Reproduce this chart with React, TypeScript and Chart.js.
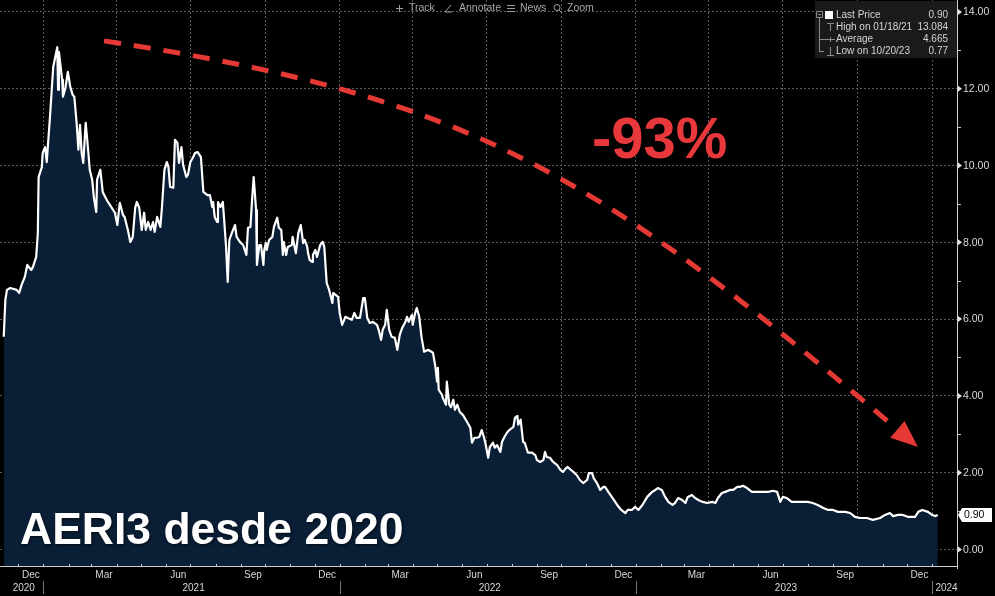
import React, { useEffect, useRef } from "react";
import { Chart, registerables } from "chart.js";

Chart.register(...registerables);

// ---- Data (x = days since 2021-01-01, y = price in BRL) ----
const days = [
  -49, -47, -45, -41, -33, -30, -27, -23, -20, -15, -13, -9, -7, -6, -2, -1, 2, 4, 8, 12, 17, 18, 19, 23, 24, 27, 30, 33, 36, 38,
  41, 43, 45, 47, 49, 52, 55, 57, 60, 62, 65, 66, 70, 73, 78, 82, 88, 91, 94, 98, 100, 104, 107, 110, 113, 115, 118, 121, 124, 126,
  129, 132, 135, 137, 140, 144, 146, 149, 152, 154, 156, 160, 162, 165, 167, 170, 172, 176, 178, 181, 184, 187, 190, 194, 197, 202,
  205, 208, 209, 211, 214, 215, 218, 221, 222, 225, 227, 229, 232, 236, 238, 242, 246, 250, 252, 255, 257, 259, 262, 263, 266, 268,
  271, 272, 274, 275, 278, 282, 284, 288, 290, 293, 295, 296, 299, 301, 306, 307, 311, 314, 317, 320, 322, 325, 326, 328, 331, 332,
  335, 337, 341, 344, 346, 349, 352, 356, 357, 360, 363, 365, 368, 372, 375, 380, 383, 386, 390, 394, 396, 399, 402, 406, 411, 413,
  416, 418, 421, 423, 426, 429, 433, 436, 439, 442, 446, 448, 450, 454, 455, 458, 460, 463, 466, 469, 474, 478, 480, 483, 485, 486,
  487, 491, 492, 496, 497, 500, 502, 505, 507, 510, 513, 517, 522, 526, 528, 531, 534, 537, 540, 543, 545, 548, 550, 554, 556, 559,
  563, 565, 568, 571, 574, 579, 581, 584, 585, 588, 591, 593, 597, 602, 606, 608, 612, 616, 618, 620, 624, 628, 633, 637, 640, 644,
  646, 650, 653, 657, 661, 665, 670, 672, 676, 678, 682, 686, 690, 692, 696, 702, 707, 712, 717, 720, 725, 729, 733, 738, 744, 750,
  754, 757, 762, 766, 770, 775, 778, 782, 787, 791, 794, 799, 803, 807, 812, 818, 824, 828, 831, 836, 840, 846, 850, 855, 858, 862,
  867, 873, 879, 887, 893, 899, 904, 908, 911, 916, 922, 929, 936, 942, 948, 954, 961, 967, 973, 979, 988, 994, 1000, 1006, 1015, 1022,
  1031, 1037, 1043, 1047, 1053, 1059, 1065, 1074, 1078, 1083, 1087, 1090, 1095, 1099, 1102,
];

const prices = [
  5.54, 6.5, 6.76, 6.81, 6.76, 6.68, 6.89, 7.1, 7.41, 7.28, 7.36, 7.62, 8.24, 9.7, 9.96, 10.33, 10.48, 10.09, 11.27, 12.57, 13.08, 11.97, 12.96, 12.23, 11.79, 12.02, 12.44, 12.05, 11.84, 11.79,
  11.06, 10.41, 11.06, 10.33, 10.07, 11.11, 10.41, 9.89, 9.63, 9.18, 8.79, 9.63, 9.89, 9.31, 9.1, 8.97, 8.77, 8.45, 9.03, 8.71, 8.66, 8.32, 8.01, 8.14, 8.9, 9.05, 8.9, 8.32, 8.77, 8.32,
  8.53, 8.32, 8.53, 8.27, 8.66, 8.4, 8.92, 9.89, 10.09, 9.96, 9.44, 9.42, 10.67, 10.59, 10.07, 10.48, 10.02, 9.7, 9.76, 10.09, 10.2, 10.33, 10.35, 10.22, 9.31, 9.23,
  9.23, 8.92, 9.05, 8.66, 8.53, 9.05, 8.92, 9.05, 8.77, 7.88, 6.97, 8.06, 8.24, 8.45, 8.14, 8.01, 7.93, 7.67, 8.38, 8.4, 9.1, 9.7, 8.84, 7.41, 7.93, 7.93,
  7.41, 7.8, 7.98, 7.8, 8.06, 8.14, 8.4, 8.64, 8.38, 8.32, 7.67, 8.01, 7.67, 7.88, 7.93, 8.14, 7.72, 8.24, 8.45, 7.98, 8.06, 7.88, 7.72, 7.54, 7.49, 7.67,
  7.8, 7.62, 7.93, 8.01, 7.88, 6.94, 6.76, 6.42, 6.68, 6.63, 6.58, 6.16, 5.85, 6.06, 6.03, 5.98, 6.16, 6.03, 6.03, 6.55, 6.55, 6.03, 5.9, 5.93, 5.85, 5.72,
  5.46, 5.72, 5.85, 6.24, 5.72, 5.54, 5.51, 5.2, 5.59, 5.77, 5.93, 6.06, 5.93, 6.11, 5.85, 6.16, 6.29, 6.06, 5.51, 5.15, 5.2, 5.15, 5.12, 4.75, 4.37, 4.73,
  4.16, 4.03, 3.95, 3.77, 4.37, 3.77, 3.71, 3.9, 3.64, 3.77, 3.58, 3.5, 3.32, 3.17, 2.78, 2.91, 2.91, 2.93, 3.11, 2.91, 2.72, 2.39, 2.67, 2.78, 2.65, 2.72,
  2.54, 2.8, 2.93, 3.04, 3.11, 3.19, 3.43, 3.48, 3.25, 3.38, 2.8, 2.78, 2.52, 2.52, 2.46, 2.33, 2.28, 2.33, 2.54, 2.41, 2.39, 2.28, 2.2, 2.07, 2.02, 2.12,
  2.15, 2.07, 2.02, 1.94, 1.81, 1.73, 1.81, 1.99, 1.99, 1.86, 1.73, 1.55, 1.63, 1.63, 1.5, 1.32, 1.16, 1.03, 0.95, 1.03, 1.03, 1.11, 1.03, 1.16, 1.37, 1.5,
  1.55, 1.6, 1.55, 1.37, 1.24, 1.16, 1.21, 1.34, 1.29, 1.21, 1.37, 1.42, 1.34, 1.29, 1.24, 1.21, 1.24, 1.21, 1.34, 1.47, 1.5, 1.55, 1.55, 1.63, 1.63, 1.66,
  1.6, 1.5, 1.5, 1.5, 1.5, 1.53, 1.5, 1.24, 1.37, 1.34, 1.24, 1.24, 1.24, 1.24, 1.21, 1.16, 1.08, 1.03, 1.03, 0.98, 0.98, 0.95, 0.85, 0.82, 0.82, 0.77,
  0.82, 0.9, 0.95, 0.87, 0.9, 0.9, 0.85, 0.85, 0.98, 1.03, 1.0, 0.98, 0.9, 0.87, 0.9,
];

// axis ranges & ticks
const xMinDay = -53.6;
const xMaxDay = 1125.7;
const yMin = -0.43;
const yMax = 14.31;
const yTickValues = [0, 2, 4, 6, 8, 10, 12, 14];
const yMinorValues = [1, 3, 5, 7, 9, 11, 13];
const monthLabels = ["Dec", "Mar", "Jun", "Sep", "Dec", "Mar", "Jun", "Sep", "Dec", "Mar", "Jun", "Sep", "Dec"];
const monthLabelMonths = ["2020-12", "2021-03", "2021-06", "2021-09", "2021-12", "2022-03", "2022-06", "2022-09", "2022-12", "2023-03", "2023-06", "2023-09", "2023-12"];
const yearLabels = ["2020", "2021", "2022", "2023", "2024"];

// legend / annotations
const legendNames = ["Last Price", "High on 01/18/21", "Average", "Low on 10/20/23"];
const legendValues = ["0.90", "13.084", "4.665", "0.77"];
const lastPrice = 0.9;
const toolbarItems = ["Track", "Annotate", "News", "Zoom"];
const titleText = "AERI3 desde 2020";
const dropText = "-93%";
const arrowDays = [74.6, 541.2, 689.8, 1077.6];
const arrowValues = [13.245, 11.766, 9.638, 2.672];

const FONT = "'Liberation Sans', Arial, sans-serif";
const RED = "#e53935";

function dayOf(y: number, m: number, d: number) {
  return (Date.UTC(y, m - 1, d) - Date.UTC(2021, 0, 1)) / 86400000;
}

const quarterStarts: number[] = [];
const monthStarts: number[] = [];
for (let y = 2020; y <= 2024; y++) {
  for (let m = 1; m <= 12; m++) {
    const d = dayOf(y, m, 1);
    if (d < xMinDay || d > xMaxDay) continue;
    monthStarts.push(d);
    if ((m - 1) % 3 === 0) quarterStarts.push(d);
  }
}

const overlay = {
  id: "overlay",
  afterDraw(chart: any) {
    const ctx: CanvasRenderingContext2D = chart.ctx;
    const xs = chart.scales.x;
    const ys = chart.scales.y;
    const ca = chart.chartArea;
    ctx.save();

    // axis lines
    ctx.strokeStyle = "#d0d0d0";
    ctx.lineWidth = 1;
    ctx.beginPath();
    ctx.moveTo(ca.right + 0.5, 0);
    ctx.lineTo(ca.right + 0.5, ca.bottom + 3);
    ctx.moveTo(ca.left, ca.bottom + 0.5);
    ctx.lineTo(ca.right + 0.5, ca.bottom + 0.5);
    ctx.stroke();

    // month ticks
    ctx.strokeStyle = "#c8c8c8";
    ctx.beginPath();
    for (const d of monthStarts) {
      const x = Math.round(xs.getPixelForValue(d)) + 0.5;
      ctx.moveTo(x, ca.bottom - 2);
      ctx.lineTo(x, ca.bottom + 1);
    }
    ctx.stroke();

    // year separators
    ctx.strokeStyle = "#777";
    ctx.beginPath();
    for (let y = 2021; y <= 2024; y++) {
      const x = Math.round(xs.getPixelForValue(dayOf(y, 1, 1))) + 0.5;
      ctx.moveTo(x, ca.bottom + 15);
      ctx.lineTo(x, ca.bottom + 28);
    }
    ctx.stroke();

    // month labels
    ctx.fillStyle = "#d8d8d8";
    ctx.font = `10px ${FONT}`;
    ctx.textAlign = "center";
    ctx.textBaseline = "middle";
    monthLabelMonths.forEach((ym, i) => {
      const [yy, mm] = ym.split("-").map(Number);
      const mid = (dayOf(yy, mm, 1) + dayOf(yy, mm + 1, 1)) / 2;
      ctx.fillText(monthLabels[i], xs.getPixelForValue(mid), ca.bottom + 9);
    });
    // year labels
    yearLabels.forEach((yl) => {
      const yy = Number(yl);
      const a = Math.max(dayOf(yy, 1, 1), xMinDay);
      const b = Math.min(dayOf(yy + 1, 1, 1), xMaxDay);
      ctx.fillText(yl, xs.getPixelForValue((a + b) / 2) + 2, ca.bottom + 22);
    });

    // y axis markers & labels
    ctx.textAlign = "left";
    ctx.font = `10.5px ${FONT}`;
    for (const v of yTickValues) {
      const y = ys.getPixelForValue(v);
      ctx.fillStyle = "#e0e0e0";
      ctx.beginPath();
      ctx.moveTo(ca.right + 1, y - 3);
      ctx.lineTo(ca.right + 5, y);
      ctx.lineTo(ca.right + 1, y + 3);
      ctx.closePath();
      ctx.fill();
      ctx.fillStyle = "#d8d8d8";
      ctx.fillText(v.toFixed(2), ca.right + 6, y + 0.5);
    }
    ctx.strokeStyle = "#c8c8c8";
    ctx.beginPath();
    for (const v of yMinorValues) {
      const y = Math.round(ys.getPixelForValue(v)) + 0.5;
      ctx.moveTo(ca.right, y);
      ctx.lineTo(ca.right + 4, y);
    }
    ctx.stroke();

    // last price tag
    const ly = ys.getPixelForValue(lastPrice);
    ctx.fillStyle = "#ffffff";
    ctx.beginPath();
    ctx.moveTo(ca.right + 1, ly);
    ctx.lineTo(ca.right + 5, ly - 7);
    ctx.lineTo(ca.right + 35, ly - 7);
    ctx.lineTo(ca.right + 35, ly + 7);
    ctx.lineTo(ca.right + 5, ly + 7);
    ctx.closePath();
    ctx.fill();
    ctx.fillStyle = "#000";
    ctx.fillText(legendValues[0], ca.right + 7, ly + 0.5);

    // red dashed arrow
    const pts = arrowDays.map((d, i) => ({ x: xs.getPixelForValue(d), y: ys.getPixelForValue(arrowValues[i]) }));
    const [p0, p1, p2, p3] = pts;
    const lerp = (a: any, b: any, t: number) => ({ x: a.x + (b.x - a.x) * t, y: a.y + (b.y - a.y) * t });
    const t = 0.972;
    const p01 = lerp(p0, p1, t), p12 = lerp(p1, p2, t), p23 = lerp(p2, p3, t);
    const p012 = lerp(p01, p12, t), p123 = lerp(p12, p23, t);
    const e = lerp(p012, p123, t);
    ctx.strokeStyle = RED;
    ctx.lineWidth = 5;
    ctx.setLineDash([17, 13]);
    ctx.beginPath();
    ctx.moveTo(p0.x, p0.y);
    ctx.bezierCurveTo(p01.x, p01.y, p012.x, p012.y, e.x, e.y);
    ctx.stroke();
    ctx.setLineDash([]);
    const ang = Math.atan2(p3.y - p2.y, p3.x - p2.x);
    const L = 27, W = 11;
    const bx = p3.x - L * Math.cos(ang), by = p3.y - L * Math.sin(ang);
    ctx.fillStyle = RED;
    ctx.beginPath();
    ctx.moveTo(p3.x, p3.y);
    ctx.lineTo(bx - W * Math.sin(ang), by + W * Math.cos(ang));
    ctx.lineTo(bx + W * Math.sin(ang), by - W * Math.cos(ang));
    ctx.closePath();
    ctx.fill();

    // -93%
    ctx.font = `bold 58px ${FONT}`;
    ctx.textBaseline = "alphabetic";
    ctx.textAlign = "left";
    ctx.fillStyle = "#e8383b";
    ctx.fillText(dropText, 592, 158);

    // title
    ctx.font = `bold 44.5px ${FONT}`;
    ctx.fillStyle = "#ffffff";
    ctx.shadowColor = "rgba(0,0,0,0.7)";
    ctx.shadowBlur = 3;
    ctx.shadowOffsetX = 1;
    ctx.shadowOffsetY = 1;
    ctx.fillText(titleText, 20, 544);
    ctx.shadowColor = "transparent";
    ctx.shadowBlur = 0;
    ctx.shadowOffsetX = 0;
    ctx.shadowOffsetY = 0;

    // toolbar
    ctx.font = `10.5px ${FONT}`;
    ctx.textBaseline = "middle";
    ctx.fillStyle = "#a8a8a8";
    ctx.strokeStyle = "#a0a0a0";
    ctx.lineWidth = 1;
    const tbX = [409, 459, 520, 567];
    toolbarItems.forEach((s, i) => ctx.fillText(s, tbX[i], 8.5));
    ctx.beginPath();
    // plus
    ctx.moveTo(396, 8.5); ctx.lineTo(403, 8.5); ctx.moveTo(399.5, 5); ctx.lineTo(399.5, 12);
    // annotate slash
    ctx.moveTo(445, 12); ctx.lineTo(451, 5); ctx.moveTo(445, 12); ctx.lineTo(452, 12);
    // news lines
    for (let k = 0; k < 3; k++) { ctx.moveTo(507, 5.5 + k * 3); ctx.lineTo(515, 5.5 + k * 3); }
    ctx.stroke();
    ctx.beginPath();
    ctx.arc(557, 7.5, 3, 0, Math.PI * 2);
    ctx.moveTo(559, 10); ctx.lineTo(562, 13);
    ctx.stroke();

    // legend box
    ctx.fillStyle = "#1a1a1a";
    ctx.fillRect(815, 1, ca.right - 815, 57);
    const rowY = [15, 27.5, 39.5, 51.5];
    ctx.font = `10px ${FONT}`;
    ctx.fillStyle = "#d4d4d4";
    legendNames.forEach((n, i) => {
      ctx.textAlign = "left";
      ctx.fillText(n, 836, rowY[i]);
      ctx.textAlign = "right";
      ctx.fillText(legendValues[i], 948, rowY[i]);
    });
    ctx.strokeStyle = "#8a8a8a";
    ctx.beginPath();
    ctx.rect(816.5, 11.5, 6, 6);
    ctx.moveTo(818, 14.5); ctx.lineTo(821, 14.5);
    ctx.moveTo(819.5, 18); ctx.lineTo(819.5, 52);
    ctx.moveTo(819.5, 39.5); ctx.lineTo(835, 39.5);
    ctx.moveTo(819.5, 51.5); ctx.lineTo(824, 51.5);
    // high
    ctx.moveTo(827, 23.5); ctx.lineTo(834, 23.5); ctx.moveTo(830.5, 23.5); ctx.lineTo(830.5, 31);
    // avg plus
    ctx.moveTo(830.5, 37); ctx.lineTo(830.5, 42);
    // low
    ctx.moveTo(830.5, 47); ctx.lineTo(830.5, 55.5); ctx.moveTo(827, 55.5); ctx.lineTo(834, 55.5);
    ctx.stroke();
    ctx.fillStyle = "#ffffff";
    ctx.fillRect(825, 11, 8, 8);

    ctx.restore();
  },
};

export default function App() {
  const ref = useRef<HTMLCanvasElement>(null);
  useEffect(() => {
    document.body.style.margin = "0";
    document.body.style.background = "#000";
    const gridCommon = { color: "#5c5c5c", lineWidth: 1, drawTicks: false };
    const chart = new Chart(ref.current as HTMLCanvasElement, {
      type: "line",
      data: {
        datasets: [
          {
            data: days.map((d, i) => ({ x: d, y: prices[i] })),
            borderColor: "#ffffff",
            borderWidth: 2.2,
            backgroundColor: "#0a1e36",
            fill: "start",
            pointRadius: 0,
            tension: 0,
            borderJoinStyle: "round",
          } as any,
        ],
      },
      options: {
        responsive: false,
        devicePixelRatio: 1,
        animation: false,
        layout: { padding: 0 },
        plugins: { legend: { display: false }, tooltip: { enabled: false } },
        scales: {
          x: {
            type: "linear",
            min: xMinDay,
            max: xMaxDay,
            z: 1,
            afterBuildTicks: (s: any) => {
              s.ticks = quarterStarts.map((v) => ({ value: v }));
            },
            afterFit: (s: any) => {
              s.height = 30;
            },
            ticks: { display: false },
            grid: gridCommon,
            border: { display: false, dash: [2, 2] },
          },
          y: {
            type: "linear",
            position: "right",
            min: yMin,
            max: yMax,
            z: 1,
            afterBuildTicks: (s: any) => {
              s.ticks = yTickValues.map((v) => ({ value: v }));
            },
            afterFit: (s: any) => {
              s.width = 38;
            },
            ticks: { display: false },
            grid: gridCommon,
            border: { display: false, dash: [2, 2] },
          },
        },
      } as any,
      plugins: [overlay],
    });
    return () => chart.destroy();
  }, []);
  return (
    <div style={{ position: "absolute", left: 0, top: 0, width: 995, height: 596, background: "#000" }}>
      <canvas ref={ref} width={995} height={596} style={{ display: "block", width: 995, height: 596 }} />
    </div>
  );
}
